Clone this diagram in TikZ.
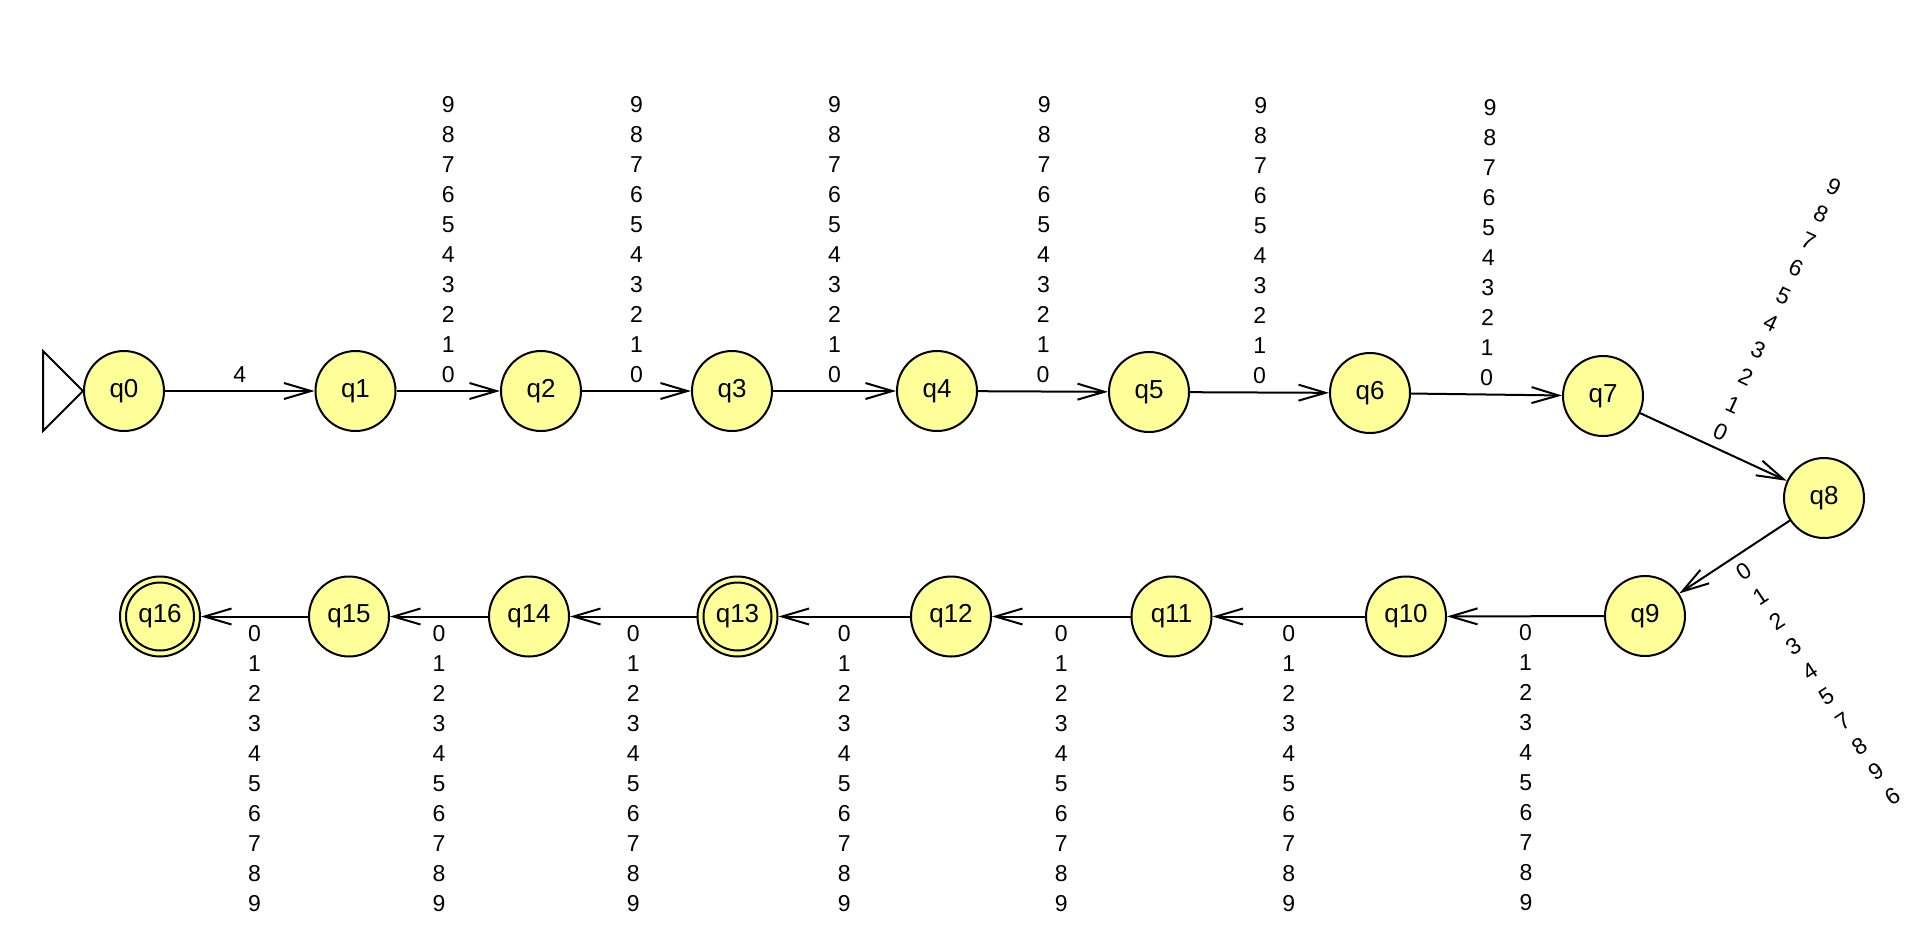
\documentclass[tikz,border=0pt]{standalone}
\usepackage{fontspec}
\setmainfont{Liberation Sans}
\usetikzlibrary{arrows.meta}
\definecolor{statefill}{RGB}{255,255,153}
% digit stacks written beside the transitions
\newcommand{\updigits}{9\\8\\7\\6\\5\\4\\3\\2\\1\\0}
\newcommand{\downdigits}{0\\1\\2\\3\\4\\5\\6\\7\\8\\9}
\begin{document}
\begin{tikzpicture}[x=0.5pt,y=-0.5pt,
  st/.style={circle, draw, line width=1pt, fill=statefill, minimum size=40pt,
             inner sep=0pt, font=\fontsize{13}{15}\selectfont},
  acc/.style={st, path picture={\draw[line width=1pt]
             (path picture bounding box.center) circle[radius=17pt];}},
  tr/.style={draw, line width=1pt,
             -{Straight Barb[length=13.5pt,width=8pt]}},
  lab/.style={font=\fontsize{11.5}{15}\selectfont, align=center,
              inner sep=3.8pt, sloped},
]
\useasboundingbox (0,0) rectangle (1919,944);

% states, upper row
\node[st] (q0) at (124,391) {q0};
\node[st] (q1) at (355.5,391) {q1};
\node[st] (q2) at (541,391) {q2};
\node[st] (q3) at (732,391) {q3};
\node[st] (q4) at (937,391) {q4};
\node[st] (q5) at (1149,392) {q5};
\node[st] (q6) at (1370,393) {q6};
\node[st] (q7) at (1603,396) {q7};
% turning state
\node[st] (q8) at (1824,498) {q8};
% states, lower row
\node[st] (q9) at (1645,616) {q9};
\node[st] (q10) at (1406,616.5) {q10};
\node[st] (q11) at (1171.5,616.5) {q11};
\node[st] (q12) at (951,616.5) {q12};
\node[acc] (q13) at (737.5,616.5) {q13};
\node[st] (q14) at (529,616.5) {q14};
\node[st] (q15) at (349,616.5) {q15};
\node[acc] (q16) at (160,616.5) {q16};

% initial-state marker
\draw[line width=1pt] (q0.west) -- ++(-40,-40) -- ++(0,80) -- cycle;

% transitions
\path[tr] (q0) -- node[lab, above] {4} (q1);
\path[tr] (q1) -- node[lab, above] {\updigits} (q2);
\path[tr] (q2) -- node[lab, above] {\updigits} (q3);
\path[tr] (q3) -- node[lab, above] {\updigits} (q4);
\path[tr] (q4) -- node[lab, above] {\updigits} (q5);
\path[tr] (q5) -- node[lab, above] {\updigits} (q6);
\path[tr] (q6) -- node[lab, above] {\updigits} (q7);
\path[tr] (q7) -- node[lab, above] {\updigits} (q8);
\path[tr] (q8) -- node[lab, below] {0\\1\\2\\3\\4\\5\\7\\8\\9\\6} (q9);
\path[tr] (q9) -- node[lab, below] {\downdigits} (q10);
\path[tr] (q10) -- node[lab, below] {\downdigits} (q11);
\path[tr] (q11) -- node[lab, below] {\downdigits} (q12);
\path[tr] (q12) -- node[lab, below] {\downdigits} (q13);
\path[tr] (q13) -- node[lab, below] {\downdigits} (q14);
\path[tr] (q14) -- node[lab, below] {\downdigits} (q15);
\path[tr] (q15) -- node[lab, below] {\downdigits} (q16);
\end{tikzpicture}
\end{document}
